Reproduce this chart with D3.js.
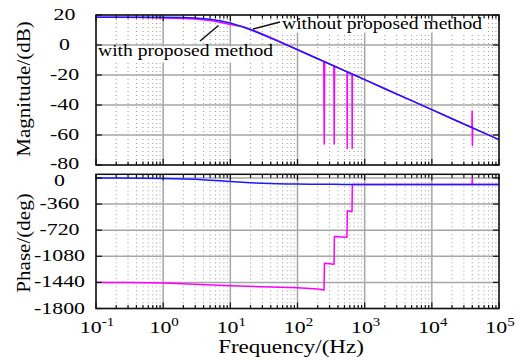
<!DOCTYPE html>
<html>
<head>
<meta charset="utf-8">
<script src="https://cdn.jsdelivr.net/npm/d3@7"></script>
<style>
  body { margin: 0; background: #fff; }
</style>
</head>
<body>
<svg id="chart" width="522" height="360"></svg>
<script>
// ---- Bode data: plant without and with the proposed method ----
const refFreq  = [0.1, 0.2, 0.5, 1, 2, 3, 5, 7, 10, 15, 20, 30, 50, 70, 100, 150, 200, 250, 300, 350,
                  500, 700, 1000, 2000, 5000, 10000, 20000, 40000, 50000, 100000];
const refMag   = [18.5, 18.5, 18.48, 18.44, 18.26, 17.97, 17.15, 16.17, 14.61, 12.2, 10.17, 7.02, 2.78, -0.08,
                  -3.15, -6.65, -9.14, -11.08, -12.66, -14.0, -17.1, -20.02, -23.12, -29.14, -37.1, -43.12,
                  -49.14, -55.16, -57.1, -63.12];
const refPhase = [-0.7, -1.4, -3.5, -6.9, -13.6, -19.9, -31.1, -40.1, -50.3, -61.0, -67.5, -74.5, -80.6, -83.2,
                  -85.3, -86.8, -87.6, -88.1, -88.4, -88.6, -89.0, -89.3, -89.5, -89.8, -89.9, -90, -90, -90,
                  -90, -90];

const propMagFreq = [0.1, 0.2, 0.5, 1, 2, 3, 5, 7, 10, 15, 20, 30, 50, 70, 100, 150, 200, 246, 250, 254,
                     300, 348, 352, 356, 500, 546, 549, 552, 648, 652, 656, 1000, 2000, 5000, 10000, 20000,
                     39500, 39800, 40200, 40500, 50000, 100000];
const propMag     = [18.5, 18.45, 18.3, 18.0, 17.7, 17.3, 16.3, 15.2, 13.6, 12.4, 10.6, 7.4, 3.0, 0.0, -3.1,
                     -6.65, -9.14, -10.95, -66, -11.2, -12.66, -13.95, -66, -14.15, -17.1, -17.85, -69, -17.95,
                     -19.35, -69, -19.43, -23.12, -29.14, -37.1, -43.12, -49.14, -55.05, -44, -67, -55.25,
                     -57.1, -63.12];

const propPhaseFreq = [0.1, 0.3, 1, 3, 10, 30, 100, 200, 248, 252, 350, 354, 545, 552, 648, 655, 1000,
                       10000, 39700, 40000, 40300, 100000];
const propPhase     = [-1441, -1443, -1450, -1465, -1487, -1500, -1515, -1530, -1545, -1175, -1189, -809,
                       -818, -452, -465, -90, -90, -90, -90, -5, -90, -90];

const magTicks   = [20, 0, -20, -40, -60, -80];
const phaseTicks = [0, -360, -720, -1080, -1440, -1800];
const decadeExps = [-1, 0, 1, 2, 3, 4, 5];

const seriesColors = { without: "#1a1aff", with: "#ff00ff" };
const serif = '"Liberation Serif", "Times New Roman", serif';
const ink = "#000";

// ---- layout ----
const svg = d3.select("#chart");
const left = 96, right = 499;
const magTop = 15, magBottom = 165;
const phTop = 174.3, phBottom = 308.5;

const x = d3.scaleLog().domain([0.1, 1e5]).range([left, right]);
const yMag = d3.scaleLinear().domain([-80, 20]).range([magBottom, magTop]);
const yPh = d3.scaleLinear().domain([-1800, 50]).range([phBottom, phTop]);

const majorFreqs = decadeExps.map(e => Math.pow(10, e));
const minorFreqs = [];
decadeExps.slice(0, -1).forEach(e => {
  for (let k = 2; k <= 9; k++) minorFreqs.push(k * Math.pow(10, e));
});

// stretched serif text helper
function label(g, str, px, py, size, sx, anchor) {
  return g.append("text")
    .attr("transform", `translate(${px},${py}) scale(${sx},1)`)
    .attr("text-anchor", anchor || "middle")
    .style("font-family", serif)
    .attr("fill", ink)
    .attr("font-size", size)
    .text(str);
}

function panel(y, ticks, top, bottom) {
  const g = svg.append("g");
  // minor vertical grid (dotted)
  g.selectAll(".minor").data(minorFreqs).join("line")
    .attr("x1", d => x(d)).attr("x2", d => x(d))
    .attr("y1", top).attr("y2", bottom)
    .attr("stroke", "#9a9a9a").attr("stroke-width", 1)
    .attr("stroke-dasharray", "1,3");
  // major grid
  g.selectAll(".vmaj").data(majorFreqs).join("line")
    .attr("x1", d => x(d)).attr("x2", d => x(d))
    .attr("y1", top).attr("y2", bottom)
    .attr("stroke", "#a6a6a6").attr("stroke-width", 1.5);
  g.selectAll(".hmaj").data(ticks).join("line")
    .attr("x1", left).attr("x2", right)
    .attr("y1", d => y(d)).attr("y2", d => y(d))
    .attr("stroke", "#a6a6a6").attr("stroke-width", 1.5);
  return g;
}

function frame(y, ticks, top, bottom) {
  const g = svg.append("g").attr("stroke", "#111").attr("fill", "none");
  g.append("rect").attr("x", left).attr("y", top)
    .attr("width", right - left).attr("height", bottom - top)
    .attr("stroke-width", 1.5);
  majorFreqs.forEach(f => {
    g.append("line").attr("class", "tk").attr("x1", x(f)).attr("x2", x(f)).attr("y1", bottom).attr("y2", bottom - 6);
    g.append("line").attr("class", "tk").attr("x1", x(f)).attr("x2", x(f)).attr("y1", top).attr("y2", top + 6);
  });
  minorFreqs.forEach(f => {
    g.append("line").attr("class", "tk").attr("x1", x(f)).attr("x2", x(f)).attr("y1", bottom).attr("y2", bottom - 3.5);
    g.append("line").attr("class", "tk").attr("x1", x(f)).attr("x2", x(f)).attr("y1", top).attr("y2", top + 3.5);
  });
  ticks.forEach(t => {
    g.append("line").attr("class", "tk").attr("x1", left).attr("x2", left + 6).attr("y1", y(t)).attr("y2", y(t));
    g.append("line").attr("class", "tk").attr("x1", right).attr("x2", right - 6).attr("y1", y(t)).attr("y2", y(t));
  });
  g.selectAll(".tk").attr("stroke-width", 1.2);
}

function curve(g, fx, vy, y, color) {
  const line = d3.line().x((d, i) => x(fx[i])).y(d => y(d));
  g.append("path").datum(vy)
    .attr("d", line)
    .attr("fill", "none")
    .attr("stroke", color)
    .attr("stroke-width", 1.5)
    .attr("stroke-linejoin", "round");
}

// ---- magnitude panel ----
const gMag = panel(yMag, magTicks, magTop, magBottom);
curve(gMag, propMagFreq, propMag, yMag, seriesColors.with);
curve(gMag, refFreq, refMag, yMag, seriesColors.without);

// annotations with opaque boxes
function note(str, tx, ty, sx, bx, by, bw, bh, lx1, ly1, lx2, ly2) {
  svg.append("rect").attr("x", bx).attr("y", by).attr("width", bw).attr("height", bh).attr("fill", "#fff");
  label(svg, str, tx, ty, 17.5, sx, "start");
  svg.append("line").attr("x1", lx1).attr("y1", ly1).attr("x2", lx2).attr("y2", ly2)
    .attr("stroke", "#111").attr("stroke-width", 1.5);
}
note("without proposed method", 282, 28.5, 1.12, 280, 16.5, 206, 16, 253, 29, 280, 22);
note("with proposed method", 98, 56, 1.12, 97.5, 46.5, 180, 16, 200, 41, 218.5, 25.5);

frame(yMag, magTicks, magTop, magBottom);

// ---- phase panel ----
const gPh = panel(yPh, phaseTicks, phTop, phBottom);
curve(gPh, propPhaseFreq, propPhase, yPh, seriesColors.with);
curve(gPh, refFreq, refPhase, yPh, seriesColors.without);
frame(yPh, phaseTicks, phTop, phBottom);

// ---- tick labels ----
magTicks.forEach(t => label(svg, String(t), 64.5, yMag(t) + (t === -80 ? 3.5 : 5), 17.5, 1.25));
phaseTicks.forEach(t => label(svg, String(t), 59.5, t === 0 ? 186 : yPh(t) + 5, 17.5, 1.25));

decadeExps.forEach(e => {
  const t = svg.append("text")
    .attr("transform", `translate(${x(Math.pow(10, e)) + 1},333) scale(1.25,1)`)
    .attr("text-anchor", "middle")
    .style("font-family", serif)
    .attr("fill", ink)
    .attr("font-size", 17.5);
  t.append("tspan").text("10");
  t.append("tspan").attr("dy", -7).attr("font-size", 12).text(String(e));
});

// ---- axis titles ----
label(svg, "Frequency/(Hz)", 291, 353, 18, 1.28);
svg.append("text")
  .attr("transform", "translate(29.5,89) rotate(-90) scale(1.17,1)")
  .attr("text-anchor", "middle").style("font-family", serif).attr("fill", ink)
  .attr("font-size", 18).text("Magnitude/(dB)");
svg.append("text")
  .attr("transform", "translate(29.5,243) rotate(-90) scale(1.17,1)")
  .attr("text-anchor", "middle").style("font-family", serif).attr("fill", ink)
  .attr("font-size", 18).text("Phase/(deg)");
</script>
</body>
</html>
